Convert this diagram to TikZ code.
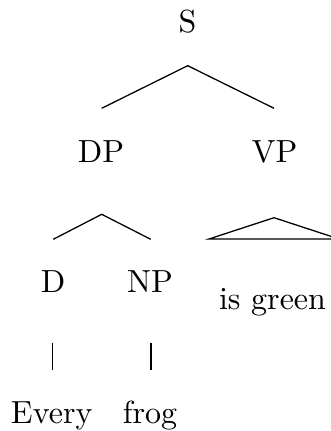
\documentclass[tikz,border=0pt]{standalone}
\begin{document}
\begin{tikzpicture}[x=0.3125pt,y=-0.3125pt,
  lbl/.style={anchor=base,inner sep=0pt,outer sep=0pt},
  edge/.style={line width=0.4pt}]
\useasboundingbox (0,0) rectangle (330,431);
\node[lbl] (S) at (187.5,33) {S};
\node[lbl] (DP) at (101,162.7) {DP};
\node[lbl] (VP) at (274.5,162.7) {VP};
\node[lbl] (D) at (53,292.7) {D};
\node[lbl] (NP) at (150,292.7) {NP};
\node[lbl] (isg) at (272.5,309) {is green};
\node[lbl] (every) at (51.7,423) {Every};
\node[lbl] (frog) at (150,423) {frog};
% S branches
\coordinate (Sb) at (187.7,65.7);
\coordinate (DPt) at (101.7,108.3);
\coordinate (VPt) at (274,108.3);
\draw[edge] (DPt) -- (Sb) -- (VPt);
% DP branches
\coordinate (DPb) at (101.7,214.3);
\coordinate (Dt) at (53.3,239.3);
\coordinate (NPt) at (150.7,239.3);
\draw[edge] (Dt) -- (DPb) -- (NPt);
% VP roof
\coordinate (VPb) at (274,217.7);
\coordinate (roofL) at (209,239);
\coordinate (roofR) at (339,239);
\draw[edge] (roofL) -- (VPb) -- (roofR) -- cycle;
% unary
\coordinate (Db) at (52.3,342.7);
\coordinate (Et) at (52.3,370);
\coordinate (NPb) at (151,342.7);
\coordinate (Ft) at (151,370);
\draw[edge] (Db) -- (Et);
\draw[edge] (NPb) -- (Ft);
\end{tikzpicture}
\end{document}
